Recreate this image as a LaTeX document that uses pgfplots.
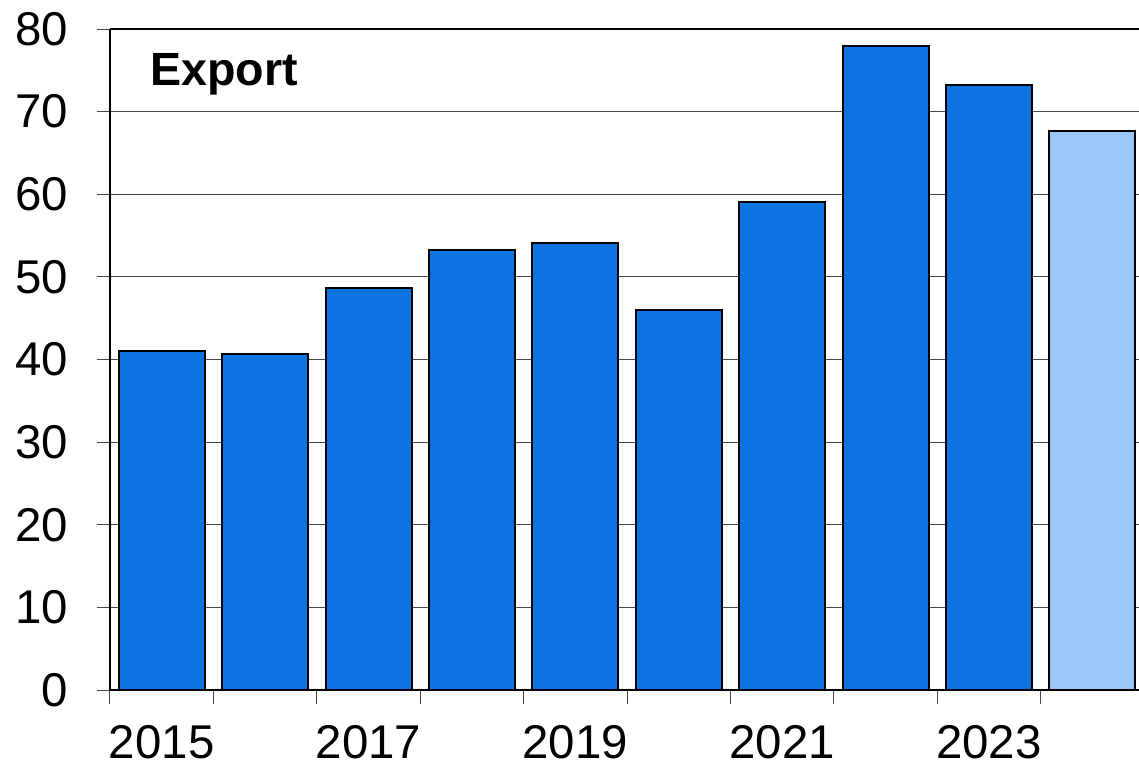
\documentclass[border=0pt]{standalone}
\usepackage{pgfplots}
\pgfplotsset{compat=1.18}
\usepackage{fontspec}
\setmainfont{Liberation Sans}

\definecolor{barblue}{RGB}{13,115,225}
\definecolor{barlight}{RGB}{153,199,247}
\definecolor{gridgray}{RGB}{70,70,70}

\begin{document}
\begin{tikzpicture}
\begin{axis}[
    at={(0,0)}, anchor=south west,
    scale only axis,
    width=517pt, height=330.5pt,
    xmin=-0.5, xmax=9.5,
    ymin=0, ymax=80,
    ytick={0,10,...,80},
    xtick={0,2,4,6,8},
    xticklabels={2015,2017,2019,2021,2023},
    minor xtick={-0.5,0.5,...,9.5},
    major x tick style={draw=none},
    minor tick length=7pt,
    major tick length=6.5pt,
    tick align=outside,
    tick style={gridgray, line width=0.5pt},
    ymajorgrids=true,
    grid style={gridgray, line width=0.5pt},
    axis x line*=bottom,
    axis y line*=left,
    axis line style={black, line width=1pt},
    tick label style={font=\fontsize{23.7}{28}\selectfont},
    /pgf/number format/assume math mode=true,
    yticklabel style={xshift=-11pt},
    xticklabel style={yshift=-7.5pt},
    ybar, bar width=43pt, bar shift=0pt,
    clip=false,
]
\addplot[fill=barblue, draw=black, line width=1pt] coordinates {
    (0,41.0) (1,40.65) (2,48.6) (3,53.25) (4,54.1)
    (5,46.0) (6,59.1) (7,78.0) (8,73.2)
};
\addplot[fill=barlight, draw=black, line width=1pt] coordinates {
    (9,67.65)
};
\draw[black, line width=1pt] (rel axis cs:0,1) -- (rel axis cs:1,1);
\node[anchor=north west, inner sep=0pt, font=\fontsize{23.3}{28}\selectfont\bfseries]
    at ([shift={(20pt,-12pt)}]rel axis cs:0,1) {Export};
\end{axis}
\pgfresetboundingbox
\path[use as bounding box] (-55pt,-39pt) rectangle (514.5pt,345pt);
\end{tikzpicture}
\end{document}
